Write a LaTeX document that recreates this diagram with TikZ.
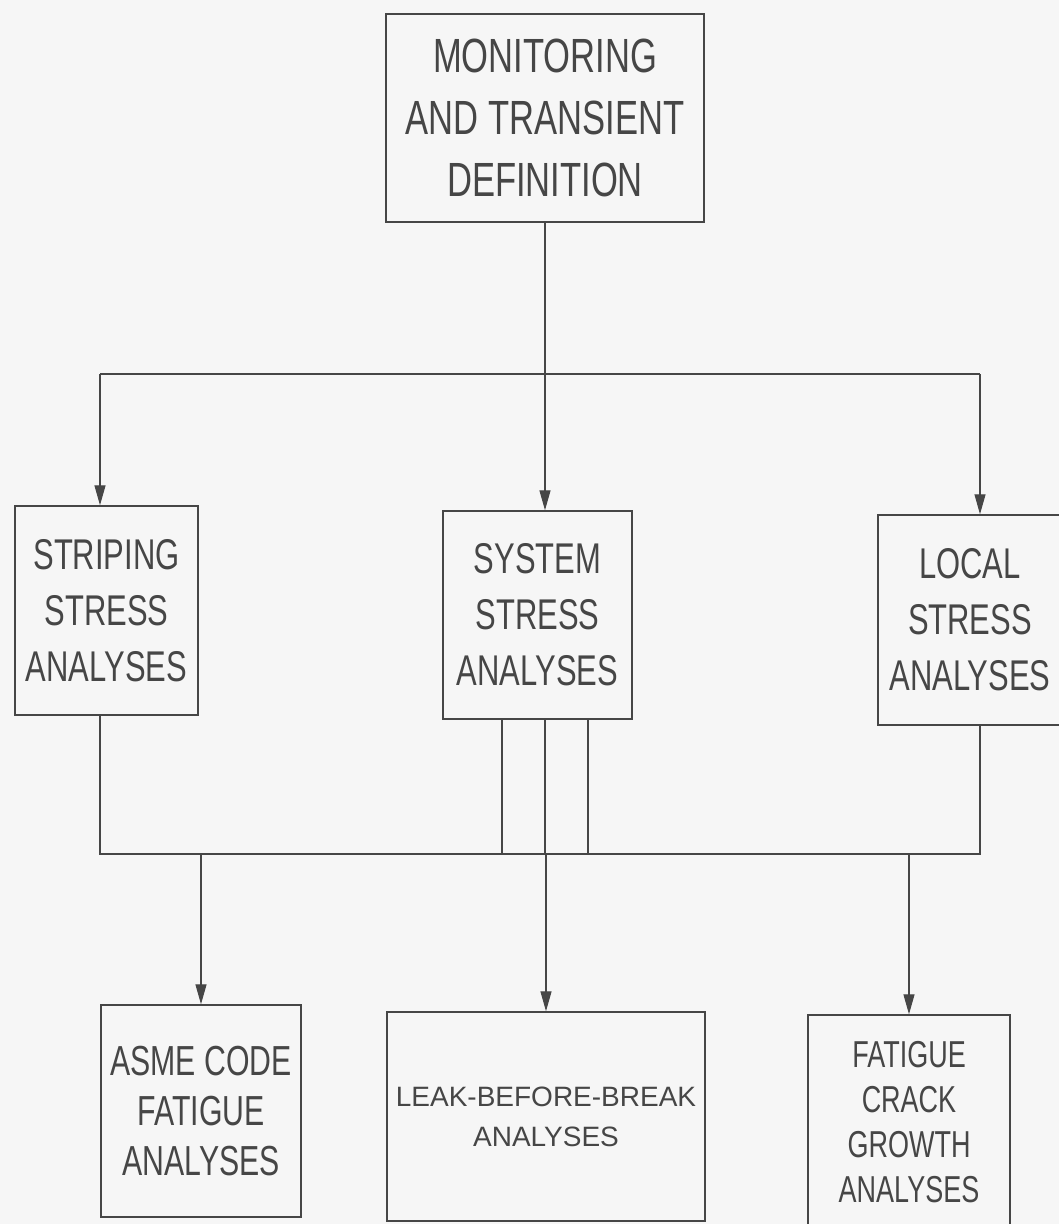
\documentclass[tikz,border=0pt]{standalone}
\usepackage{fontspec}
\setmainfont{Liberation Sans}[FakeStretch=0.72]
\newfontfamily\plainsans{Liberation Sans}
\usetikzlibrary{arrows.meta}
\definecolor{inkgray}{RGB}{70,70,70}
\definecolor{paper}{RGB}{246,246,246}

\begin{document}
\begin{tikzpicture}[x=1pt, y=-1pt,
  box/.style={draw=inkgray, line width=1.5pt, text=inkgray, align=center, inner sep=0pt},
  wire/.style={draw=inkgray, line width=1.3pt},
  feed/.style={wire, -{Triangle[length=20pt,width=11pt]}, fill=inkgray}]
\fill[paper] (0,0) rectangle (1059,1224);
\useasboundingbox (0,0) rectangle (1059,1224);
\clip (0,0) rectangle (1059,1224);
% top box
\node[box, minimum width=318pt, minimum height=208pt, font=\fontsize{48}{62}\selectfont] (monitor) at (545,118) {MONITORING\\AND TRANSIENT\\DEFINITION};
% stress analyses
\node[box, minimum width=183pt, minimum height=209pt, font=\fontsize{43}{56}\selectfont] (striping) at (106.5,610.5) {STRIPING\\STRESS\\ANALYSES};
\node[box, minimum width=189pt, minimum height=208pt, font=\fontsize{43}{56}\selectfont] (system) at (537.5,615) {SYSTEM\\STRESS\\ANALYSES};
\node[box, minimum width=184pt, minimum height=210pt, font=\fontsize{43}{56}\selectfont] (local) at (970,620) {LOCAL\\STRESS\\ANALYSES};
% final analyses
\node[box, minimum width=200pt, minimum height=212pt, font=\fontsize{42}{50}\selectfont] (asme) at (201,1111) {ASME CODE\\FATIGUE\\ANALYSES};
\node[box, minimum width=318pt, minimum height=209pt, font=\plainsans\fontsize{28}{40}\selectfont] (lbb) at (546,1116.5) {LEAK-BEFORE-BREAK\\ANALYSES};
\node[box, minimum width=202pt, minimum height=214pt, font=\fontsize{37.5}{45}\selectfont] (crack) at (909,1122) {FATIGUE\\CRACK\\GROWTH\\ANALYSES};

\coordinate (splitL) at (100,374);
\coordinate (splitR) at (980,374);
\coordinate (joinL) at (100,854);
\coordinate (joinR) at (980,854);

\draw[wire] (monitor.south) -- (monitor.south |- splitL);
\draw[wire] (splitL) -- (splitR);
\draw[feed] (splitL) -- (splitL |- striping.north);
\draw[feed] (monitor.south |- splitL) -- (monitor.south |- system.north);
\draw[feed] (splitR) -- (splitR |- local.north);

\draw[wire] (splitL |- striping.south) -- (joinL) -- (joinR) -- (splitR |- local.south);
\foreach \xx in {502,545,588}
  \draw[wire] (\xx,0 |- system.south) -- (\xx,0 |- joinL);

\draw[feed] (asme.north |- joinL) -- (asme.north);
\draw[feed] (lbb.north |- joinL) -- (lbb.north);
\draw[feed] (crack.north |- joinL) -- (crack.north);
\end{tikzpicture}
\end{document}
